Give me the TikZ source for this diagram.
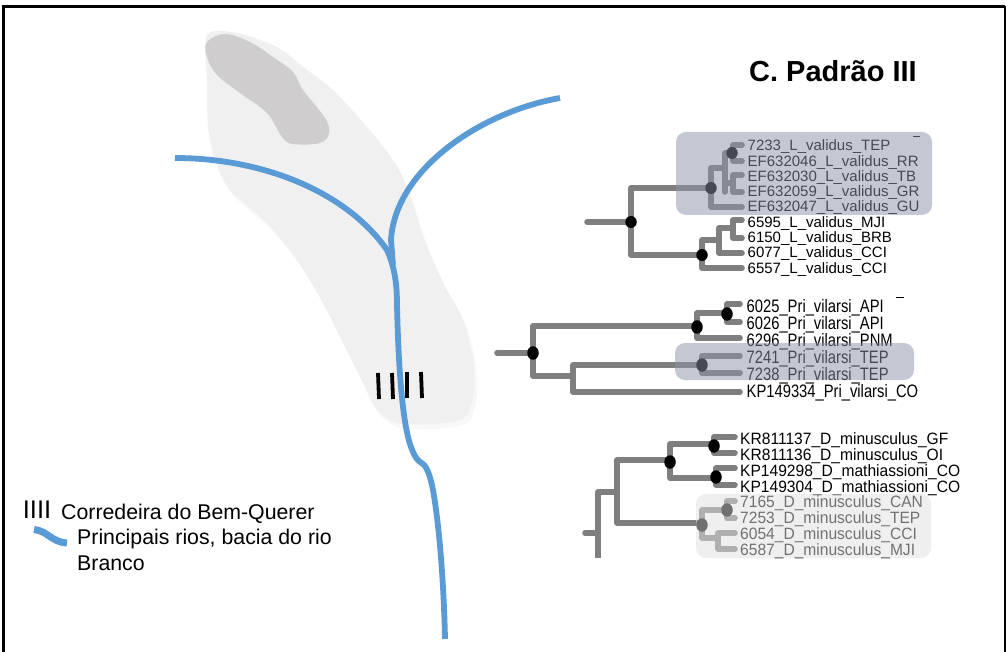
\documentclass[tikz,border=0pt]{standalone}
\usepackage{fontspec}
\usetikzlibrary{shapes.geometric}
\setmainfont{Liberation Sans}
\definecolor{riverblue}{HTML}{5B9BD5}
\definecolor{mapgrey}{HTML}{F0F0F0}
\definecolor{mapshadow}{HTML}{F8F8F8}
\definecolor{hillgrey}{HTML}{CFCDCE}
\definecolor{branchgrey}{HTML}{7F7F7F}
\definecolor{bandblue}{HTML}{8B93A9}
\definecolor{bandpale}{HTML}{E1E1E1}
\newcommand\leafB[1]{\scalebox{.82}[1]{#1}}
\newcommand\leafC[1]{\scalebox{.95}[1]{#1}}
\tikzset{
 x=1pt,y=-1pt,
 river/.style={draw=riverblue,line width=5.8pt},
 rapid/.style={draw=black,line width=3.8pt},
 branch/.style={draw=branchgrey,line width=5.6pt,line cap=round,line join=round},
 dot/.style={ellipse,fill=black,inner sep=0pt,minimum width=11.5pt,minimum height=12pt},
 talldot/.style={dot,minimum height=13.5pt},
 leaf/.style={anchor=base west,inner sep=0pt,font=\fontsize{15}{15}\selectfont,text=black},
 tallleaf/.style={anchor=base west,inner sep=0pt,font=\fontsize{18}{18}\selectfont,text=black},
 midleaf/.style={anchor=base west,inner sep=0pt,font=\fontsize{16.4}{16.4}\selectfont,text=black},
 band/.style={rounded corners=10pt,fill=bandblue,fill opacity=.5},
 paleband/.style={rounded corners=10pt,fill=bandpale,fill opacity=.5},
 legendtext/.style={anchor=base west,inner sep=0pt,font=\fontsize{21.3}{21.3}\selectfont},
 stray/.style={draw=black,line width=1pt},
}
\begin{document}
\begin{tikzpicture}
\useasboundingbox (0,0) rectangle (1006,652);
\fill[white] (0,0) rectangle (1006,652);
% map
\def\mapoutline{(207,35) (237,33) (277,47) (303,67) (333,90) (367,127) (393,160) (408,190) (423,237) (443,283) (463,320) (473,360) (473,397) (460,420) (402,424) (377,410) (363,383) (343,343) (323,303) (297,260) (267,223) (230,190) (215,160) (208,127) (207,83)}
\fill[mapshadow,shift={(3pt,-5pt)}] plot[smooth cycle,tension=.5] coordinates {\mapoutline};
\fill[mapgrey] plot[smooth cycle,tension=.5] coordinates {\mapoutline};
\fill[hillgrey] plot[smooth cycle,tension=.6] coordinates {(207,42) (225,34) (250,42) (273,57) (293,72) (303,90) (325,118) (329,133) (320,143) (293,144) (282,137) (267,113) (240,93) (217,75) (207,57)};
% rapids
\foreach \a/\b/\c in {378/379/373,392/393/373,407/407/372,421/422/372}
  \draw[rapid] (\a,\c) -- (\b,\c+26);
% rivers
\draw[river] (175,158) .. controls (260,158) and (345,190) .. (387,250)
  .. controls (395,268) and (397,285) .. (397,305)
  .. controls (398,350) and (401,420) .. (411,447)
  .. controls (415,458) and (418,461) .. (423,464)
  .. controls (428,468) and (431,480) .. (433,490)
  .. controls (440,530) and (444,590) .. (445,639);
\draw[river] (560,98) .. controls (480,112) and (395,170) .. (391,240) -- (393,265);
% tree A
\draw[branch] (587,222) -- (631,222);
\draw[branch] (711,188) -- (631,188) -- (631,255) -- (702,255);
\draw[branch] (725,168) -- (711,168) -- (711,207) -- (742,207);
\draw[branch] (733,153) -- (725,153) -- (725,192);
\draw[branch] (742,145) -- (733,145) -- (733,161) -- (742,161);
\draw[branch] (725,183) -- (733,183);
\draw[branch] (742,175) -- (733,175) -- (733,192) -- (742,192);
\draw[branch] (719,240) -- (702,240) -- (702,268) -- (742,268);
\draw[branch] (733,228) -- (719,228) -- (719,253) -- (742,253);
\draw[branch] (742,220) -- (733,220) -- (733,238) -- (742,238);
\node[dot] (a1) at (631,222) {};
\node[dot] (a2) at (702,255) {};
\node[dot] (a3) at (711,188) {};
\node[dot] (a4) at (732,153) {};
\node[leaf] (ta1) at (747.5,151) {7233\_L\_validus\_TEP};
\node[leaf] (ta2) at (747.5,166.3) {EF632046\_L\_validus\_RR};
\node[leaf] (ta3) at (747.5,181.5) {EF632030\_L\_validus\_TB};
\node[leaf] (ta4) at (747.5,196.8) {EF632059\_L\_validus\_GR};
\node[leaf] (ta5) at (747.5,212) {EF632047\_L\_validus\_GU};
\node[leaf] (ta6) at (747.5,227.3) {6595\_L\_validus\_MJI};
\node[leaf] (ta7) at (747.5,242.5) {6150\_L\_validus\_BRB};
\node[leaf] (ta8) at (747.5,257.8) {6077\_L\_validus\_CCI};
\node[leaf] (ta9) at (747.5,273) {6557\_L\_validus\_CCI};
\draw[stray] (913,137) -- (920,137);
\fill[band] (676,132) rectangle (932,215);
% tree B
\draw[branch] (497,353) -- (533,353);
\draw[branch] (697,326) -- (533,326) -- (533,376) -- (573,376);
\draw[branch] (702,365) -- (573,365) -- (573,392) -- (740,392);
\draw[branch] (727,313) -- (697,313) -- (697,338) -- (740,338);
\draw[branch] (740,304) -- (727,304) -- (727,322) -- (740,322);
\draw[branch] (740,356) -- (702,356) -- (702,373) -- (740,373);
\node[talldot] (b1) at (533,353) {};
\node[talldot] (b2) at (697,327) {};
\node[talldot] (b3) at (727,314) {};
\node[talldot] (b4) at (702,365) {};
\node[tallleaf] (tb1) at (746.5,312) {\leafB{6025\_Pri\_vilarsi\_API}};
\node[tallleaf] (tb2) at (746.5,329) {\leafB{6026\_Pri\_vilarsi\_API}};
\node[tallleaf] (tb3) at (746.5,346) {\leafB{6296\_Pri\_vilarsi\_PNM}};
\node[tallleaf] (tb4) at (746.5,363) {\leafB{7241\_Pri\_vilarsi\_TEP}};
\node[tallleaf] (tb5) at (746.5,380) {\leafB{7238\_Pri\_vilarsi\_TEP}};
\node[tallleaf] (tb6) at (746.5,397) {\leafB{KP149334\_Pri\_vilarsi\_CO}};
\draw[stray] (896,297) -- (904,297);
\fill[band] (675,343) rectangle (914,380);
% tree C
\draw[branch] (585,533) -- (598,533);
\draw[branch,line cap=butt] (617,492) -- (598,492) -- (598,558);
\draw[branch] (670,460) -- (617,460) -- (617,523) -- (702,523);
\draw[branch] (715,444) -- (670,444) -- (670,478) -- (716,478);
\draw[branch] (735,437) -- (714,437) -- (714,453) -- (735,453);
\draw[branch] (735,468) -- (716,468) -- (716,485) -- (735,485);
\node[talldot] (c1) at (670,462) {};
\node[talldot] (c2) at (714,446) {};
\node[talldot] (c3) at (716,477) {};
\node[midleaf] (tc1) at (740,444) {\leafC{KR811137\_D\_minusculus\_GF}};
\node[midleaf] (tc2) at (740,460) {\leafC{KR811136\_D\_minusculus\_OI}};
\node[midleaf] (tc3) at (740,476) {\leafC{KP149298\_D\_mathiassioni\_CO}};
\node[midleaf] (tc4) at (740,492) {\leafC{KP149304\_D\_mathiassioni\_CO}};
\draw[branch] (727,510) -- (702,510) -- (702,538) -- (718,538);
\draw[branch] (735,501) -- (727,501) -- (727,518) -- (735,518);
\draw[branch] (735,533) -- (718,533) -- (718,549) -- (735,549);
\node[talldot] (c4) at (702,525) {};
\node[talldot] (c5) at (727,510) {};
\node[midleaf] (tc5) at (740,507.5) {\leafC{7165\_D\_minusculus\_CAN}};
\node[midleaf] (tc6) at (740,523.3) {\leafC{7253\_D\_minusculus\_TEP}};
\node[midleaf] (tc7) at (740,539.2) {\leafC{6054\_D\_minusculus\_CCI}};
\node[midleaf] (tc8) at (740,555) {\leafC{6587\_D\_minusculus\_MJI}};
\fill[paleband] (696,494) rectangle (931,558);
% title
\node[anchor=base west,inner sep=0pt,font=\bfseries\fontsize{29}{29}\selectfont] (title) at (749,82) {C. Padrão III};
% legend
\node[anchor=base,inner sep=0pt,font=\fontsize{25.5}{25.5}\selectfont] (ticks) at (37,518) {IIII};
\node[legendtext] (l1) at (61,519) {Corredeira do Bem-Querer};
\draw[river,line width=7pt] (34,529.5) .. controls (48,531) and (51,542) .. (67,543);
\node[legendtext] (l2) at (77,544) {Principais rios, bacia do rio};
\node[legendtext] (l3) at (77,570) {Branco};
% frame
\draw[black,line width=3pt] (3.5,652) -- (3.5,6.5) -- (1005,6.5);
\draw[black,line width=1.2pt] (1005,6.5) -- (1005,652);
\end{tikzpicture}
\end{document}
